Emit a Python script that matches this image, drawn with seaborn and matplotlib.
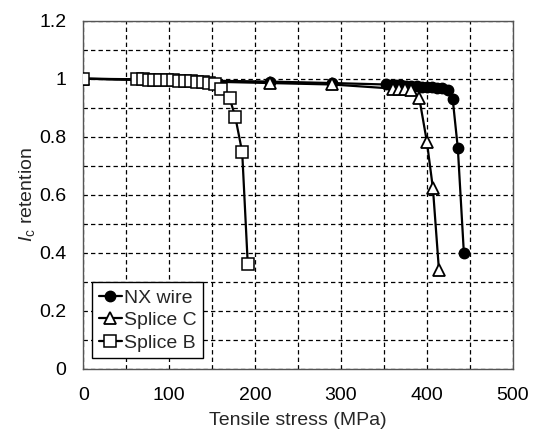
import matplotlib
matplotlib.use("Agg")
import matplotlib.pyplot as plt
import seaborn as sns
import pandas as pd
from matplotlib.ticker import MultipleLocator, FuncFormatter

# ---- data ----
nx_stress = [0, 217, 290, 352, 358, 364, 370, 376, 382, 388, 394, 400, 406, 412, 418, 424, 430, 436, 443]
nx_ret = [1.0, 0.99, 0.985, 0.98, 0.979, 0.978, 0.977, 0.976, 0.975, 0.974, 0.973, 0.972, 0.971, 0.969, 0.967, 0.962, 0.93, 0.76, 0.40]

c_stress = [0, 217, 290, 360, 367, 375, 382, 391, 400, 407, 414]
c_ret = [1.0, 0.985, 0.98, 0.966, 0.965, 0.964, 0.962, 0.935, 0.782, 0.622, 0.341]

b_stress = [0, 62, 69, 76, 82, 89, 97, 104, 111, 119, 126, 132, 139, 146, 153, 160, 170.5, 177, 185, 191.5]
b_ret = [1.0, 0.998, 0.998, 0.997, 0.997, 0.996, 0.995, 0.994, 0.993, 0.992, 0.991, 0.989, 0.987, 0.985, 0.98, 0.965, 0.932, 0.868, 0.747, 0.36]

x_ticks = [0, 100, 200, 300, 400, 500]
y_ticks = [0, 0.2, 0.4, 0.6, 0.8, 1.0, 1.2]

sns.set_theme(style="white")
plt.rcParams['font.family'] = ['Liberation Sans', 'DejaVu Sans']
plt.rcParams['mathtext.fontset'] = 'custom'
plt.rcParams['mathtext.rm'] = 'Liberation Sans'
plt.rcParams['mathtext.it'] = 'Liberation Sans:italic'

fig = plt.figure(figsize=(5.37, 4.30), dpi=100)
ax = fig.add_axes([0.155, 0.142, 0.800, 0.810])

df_nx = pd.DataFrame({"x": nx_stress, "y": nx_ret})
df_c = pd.DataFrame({"x": c_stress, "y": c_ret})
df_b = pd.DataFrame({"x": b_stress, "y": b_ret})

sns.lineplot(data=df_nx, x="x", y="y", ax=ax, color="black", linewidth=1.6,
             marker="o", markersize=7.5, markerfacecolor="black", markeredgecolor="black",
             markeredgewidth=1.0, label="NX wire", zorder=3)
sns.lineplot(data=df_c, x="x", y="y", ax=ax, color="black", linewidth=1.6,
             marker="^", markersize=9, markerfacecolor="white", markeredgecolor="black",
             markeredgewidth=1.3, label="Splice C", zorder=4)
sns.lineplot(data=df_b, x="x", y="y", ax=ax, color="black", linewidth=1.6,
             marker="s", markersize=8.5, markerfacecolor="white", markeredgecolor="black",
             markeredgewidth=1.1, label="Splice B", zorder=5)

ax.set_xlim(0, 500)
ax.set_ylim(0, 1.2)
ax.set_xticks(x_ticks)
ax.set_yticks(y_ticks)
ax.xaxis.set_minor_locator(MultipleLocator(50))
ax.yaxis.set_minor_locator(MultipleLocator(0.1))
ax.yaxis.set_major_formatter(FuncFormatter(lambda v, p: "%g" % round(v, 1)))
ax.grid(True, which="both", color="black", linestyle=(0, (3.5, 2.5)), linewidth=0.9)
ax.set_axisbelow(True)
ax.tick_params(which="both", length=0, labelsize=14, colors="black")
ax.tick_params(axis="x", pad=13)
ax.tick_params(axis="y", pad=12)

for s in ax.spines.values():
    s.set_color("#555555")
    s.set_linewidth(1.0)

ax.set_xlabel("Tensile stress (MPa)", fontsize=14, labelpad=6)
ax.set_ylabel(r"$I_{\mathrm{c}}$ retention", fontsize=14, labelpad=2)

leg = ax.legend(loc="lower left", bbox_to_anchor=(0.02, 0.03), fontsize=14,
                frameon=True, fancybox=False, edgecolor="black", framealpha=1,
                handlelength=1.2, handletextpad=0.1, borderpad=0.35,
                labelspacing=0.25, borderaxespad=0)
leg.get_frame().set_linewidth(1.0)

fig.savefig("out.png", dpi=100)
